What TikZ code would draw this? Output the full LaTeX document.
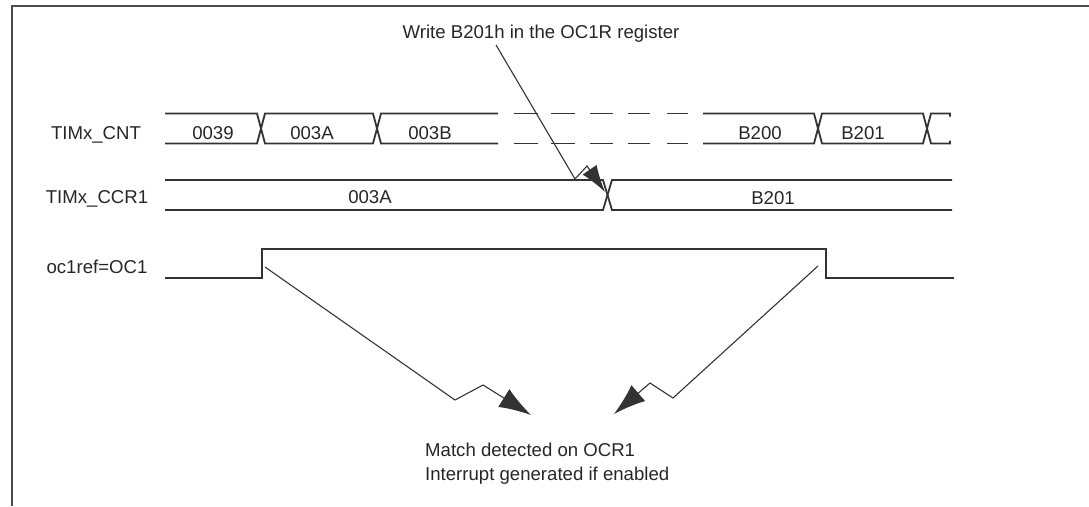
\documentclass[tikz,border=0pt]{standalone}
\usepackage{fontspec}
\setmainfont{Liberation Sans}
\usetikzlibrary{arrows.meta}
\begin{document}
\begin{tikzpicture}[x=1pt,y=-1pt,
  sig/.style={line width=1.8pt, black!80, line join=miter},
  frm/.style={line width=2.5pt, black!70},
  ptr/.style={line width=1.1pt, black!80},
  bigtip/.style={-{Latex[length=27pt,width=17pt]}},
  hugetip/.style={-{Latex[length=32pt,width=21pt]}},
  lbl/.style={font=\fontsize{18.6}{22}\selectfont, text=black!85, inner sep=0pt, anchor=base}]
\useasboundingbox (0,0) rectangle (1089,506);
% frame
\draw[frm] (12,506) -- (12,6) -- (1089,6);
% TIMx_CNT
\draw[sig] (165,113.5) -- (257,113.5) -- (265,143.5) -- (373,143.5) -- (381,113.5) -- (498,113.5);
\draw[sig] (165,143.5) -- (257,143.5) -- (265,113.5) -- (373,113.5) -- (381,143.5) -- (498,143.5);
\foreach \a/\b in {514/538,551/575,590/613,628/650,667/688}
  \draw[sig] (\a,113.5) -- (\b,113.5) (\a,143.5) -- (\b,143.5);
\draw[sig] (703,113.5) -- (814,113.5) -- (822,143.5) -- (923,143.5) -- (931,113.5) -- (950,113.5) -- (950,116.5);
\draw[sig] (703,143.5) -- (814,143.5) -- (822,113.5) -- (923,113.5) -- (931,143.5) -- (950,143.5) -- (950,140.5);
% TIMx_CCR1
\draw[sig] (165,180) -- (603,180) -- (612,210) -- (952,210);
\draw[sig] (165,210) -- (603,210) -- (612,180) -- (952,180);
% oc1ref
\draw[sig] (165,278) -- (262,278) -- (262,249) -- (826,249) -- (826,278) -- (954,278);
% labels
\node[lbl] (lcnt) at (96,139) {TIMx\_CNT};
\node[lbl] (lccr) at (97,203) {TIMx\_CCR1};
\node[lbl] (loc) at (97,273) {oc1ref=OC1};
\node[lbl] (v1) at (213,139) {0039};
\node[lbl] (v2) at (312,139) {003A};
\node[lbl] (v3) at (430,139) {003B};
\node[lbl] (v4) at (760,139) {B200};
\node[lbl] (v5) at (863,139) {B201};
\node[lbl] (c1) at (370,203) {003A};
\node[lbl] (c2) at (773,204) {B201};
\node[lbl] (wr) at (541,38) {Write B201h in the OC1R register};
\node[lbl, anchor=base west] (m1) at (425,456) {Match detected on OCR1};
\node[lbl, anchor=base west] (m2) at (425,480) {Interrupt generated if enabled};
% pointers
\coordinate (w0) at (496,45);
\coordinate (w1) at (575,179);
\coordinate (w2) at (587,166);
\coordinate (w3) at (605,192);
\draw[ptr, bigtip] (w0) -- (w1) -- (w2) -- (w3);
\coordinate (a0) at (265,267);
\coordinate (a1) at (455,400);
\coordinate (a2) at (483,385);
\coordinate (a3) at (531,415);
\draw[ptr, hugetip] (a0) -- (a1) -- (a2) -- (a3);
\coordinate (b0) at (818,266);
\coordinate (b1) at (673,398);
\coordinate (b2) at (650,383);
\coordinate (b3) at (614,414);
\draw[ptr, hugetip] (b0) -- (b1) -- (b2) -- (b3);
\end{tikzpicture}
\end{document}
